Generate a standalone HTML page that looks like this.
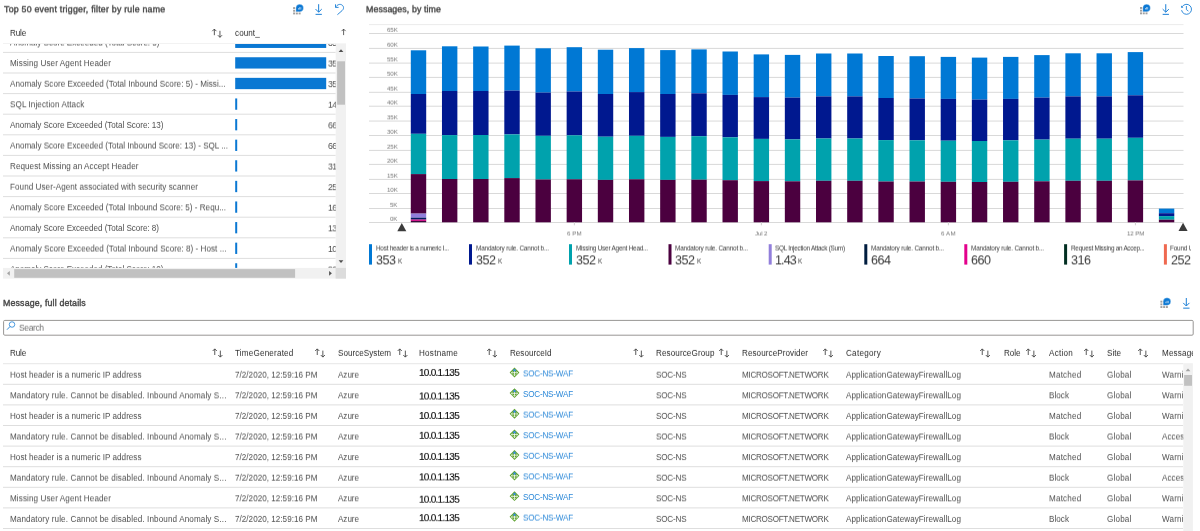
<!DOCTYPE html>
<html><head><meta charset="utf-8"><title>Workbook</title>
<style>
html,body{margin:0;padding:0;background:#fff;}
body{width:1200px;height:531px;position:relative;overflow:hidden;font-family:"Liberation Sans", sans-serif;}
.t{position:absolute;white-space:pre;transform-origin:0 50%;will-change:transform;}
.g{position:absolute;left:0;top:0;width:1200px;height:531px;}
svg{position:absolute;left:0;top:0;overflow:visible;}
</style></head><body>

<svg width="1200" height="531" viewBox="0 0 1200 531">
<rect x="369" y="24.1" width="814.5" height="1" fill="#ebebeb"/>
<rect x="369" y="33.00" width="814.5" height="1" fill="#d9d9d9"/>
<rect x="369" y="47.90" width="814.5" height="1" fill="#d9d9d9"/>
<rect x="369" y="62.60" width="814.5" height="1" fill="#d9d9d9"/>
<rect x="369" y="76.90" width="814.5" height="1" fill="#d9d9d9"/>
<rect x="369" y="91.80" width="814.5" height="1" fill="#d9d9d9"/>
<rect x="369" y="105.70" width="814.5" height="1" fill="#d9d9d9"/>
<rect x="369" y="120.55" width="814.5" height="1" fill="#d9d9d9"/>
<rect x="369" y="135.00" width="814.5" height="1" fill="#d9d9d9"/>
<rect x="369" y="149.90" width="814.5" height="1" fill="#d9d9d9"/>
<rect x="369" y="163.90" width="814.5" height="1" fill="#d9d9d9"/>
<rect x="369" y="178.90" width="814.5" height="1" fill="#d9d9d9"/>
<rect x="369" y="193.00" width="814.5" height="1" fill="#d9d9d9"/>
<rect x="369" y="208.00" width="814.5" height="1" fill="#d9d9d9"/>
<rect x="369" y="222.00" width="814.5" height="1" fill="#d9d9d9"/>
<rect x="410.80" y="50.30" width="15.4" height="43.70" fill="#0078d4"/>
<rect x="410.80" y="94.00" width="15.4" height="39.80" fill="#00188f"/>
<rect x="410.80" y="133.80" width="15.4" height="40.30" fill="#00a2ad"/>
<rect x="410.80" y="174.10" width="15.4" height="39.50" fill="#4b003f"/>
<rect x="410.80" y="213.60" width="15.4" height="4.10" fill="#917edb"/>
<rect x="410.80" y="217.70" width="15.4" height="1.90" fill="#001d5f"/>
<rect x="410.80" y="219.60" width="15.4" height="1.30" fill="#e3008c"/>
<rect x="410.80" y="220.90" width="15.4" height="1.40" fill="#3a0a3a"/>
<rect x="441.97" y="46.30" width="15.4" height="44.70" fill="#0078d4"/>
<rect x="441.97" y="91.00" width="15.4" height="44.10" fill="#00188f"/>
<rect x="441.97" y="135.10" width="15.4" height="43.90" fill="#00a2ad"/>
<rect x="441.97" y="179.00" width="15.4" height="43.30" fill="#4b003f"/>
<rect x="473.14" y="46.50" width="15.4" height="44.50" fill="#0078d4"/>
<rect x="473.14" y="91.00" width="15.4" height="44.00" fill="#00188f"/>
<rect x="473.14" y="135.00" width="15.4" height="44.00" fill="#00a2ad"/>
<rect x="473.14" y="179.00" width="15.4" height="43.30" fill="#4b003f"/>
<rect x="504.31" y="45.60" width="15.4" height="45.00" fill="#0078d4"/>
<rect x="504.31" y="90.60" width="15.4" height="43.80" fill="#00188f"/>
<rect x="504.31" y="134.40" width="15.4" height="43.70" fill="#00a2ad"/>
<rect x="504.31" y="178.10" width="15.4" height="44.20" fill="#4b003f"/>
<rect x="535.48" y="48.30" width="15.4" height="44.30" fill="#0078d4"/>
<rect x="535.48" y="92.60" width="15.4" height="43.20" fill="#00188f"/>
<rect x="535.48" y="135.80" width="15.4" height="43.70" fill="#00a2ad"/>
<rect x="535.48" y="179.50" width="15.4" height="42.80" fill="#4b003f"/>
<rect x="566.65" y="47.20" width="15.4" height="44.30" fill="#0078d4"/>
<rect x="566.65" y="91.50" width="15.4" height="43.80" fill="#00188f"/>
<rect x="566.65" y="135.30" width="15.4" height="44.00" fill="#00a2ad"/>
<rect x="566.65" y="179.30" width="15.4" height="43.00" fill="#4b003f"/>
<rect x="597.82" y="49.70" width="15.4" height="44.30" fill="#0078d4"/>
<rect x="597.82" y="94.00" width="15.4" height="42.70" fill="#00188f"/>
<rect x="597.82" y="136.70" width="15.4" height="43.20" fill="#00a2ad"/>
<rect x="597.82" y="179.90" width="15.4" height="42.40" fill="#4b003f"/>
<rect x="628.99" y="48.10" width="15.4" height="44.00" fill="#0078d4"/>
<rect x="628.99" y="92.10" width="15.4" height="43.70" fill="#00188f"/>
<rect x="628.99" y="135.80" width="15.4" height="43.50" fill="#00a2ad"/>
<rect x="628.99" y="179.30" width="15.4" height="43.00" fill="#4b003f"/>
<rect x="660.16" y="50.10" width="15.4" height="43.90" fill="#0078d4"/>
<rect x="660.16" y="94.00" width="15.4" height="42.90" fill="#00188f"/>
<rect x="660.16" y="136.90" width="15.4" height="43.00" fill="#00a2ad"/>
<rect x="660.16" y="179.90" width="15.4" height="42.40" fill="#4b003f"/>
<rect x="691.33" y="49.40" width="15.4" height="43.90" fill="#0078d4"/>
<rect x="691.33" y="93.30" width="15.4" height="42.90" fill="#00188f"/>
<rect x="691.33" y="136.20" width="15.4" height="43.50" fill="#00a2ad"/>
<rect x="691.33" y="179.70" width="15.4" height="42.60" fill="#4b003f"/>
<rect x="722.50" y="51.50" width="15.4" height="43.40" fill="#0078d4"/>
<rect x="722.50" y="94.90" width="15.4" height="42.40" fill="#00188f"/>
<rect x="722.50" y="137.30" width="15.4" height="42.90" fill="#00a2ad"/>
<rect x="722.50" y="180.20" width="15.4" height="42.10" fill="#4b003f"/>
<rect x="753.67" y="54.40" width="15.4" height="42.70" fill="#0078d4"/>
<rect x="753.67" y="97.10" width="15.4" height="41.80" fill="#00188f"/>
<rect x="753.67" y="138.90" width="15.4" height="42.20" fill="#00a2ad"/>
<rect x="753.67" y="181.10" width="15.4" height="41.20" fill="#4b003f"/>
<rect x="784.84" y="54.90" width="15.4" height="42.70" fill="#0078d4"/>
<rect x="784.84" y="97.60" width="15.4" height="41.80" fill="#00188f"/>
<rect x="784.84" y="139.40" width="15.4" height="41.90" fill="#00a2ad"/>
<rect x="784.84" y="181.30" width="15.4" height="41.00" fill="#4b003f"/>
<rect x="816.01" y="53.50" width="15.4" height="42.90" fill="#0078d4"/>
<rect x="816.01" y="96.40" width="15.4" height="42.10" fill="#00188f"/>
<rect x="816.01" y="138.50" width="15.4" height="42.30" fill="#00a2ad"/>
<rect x="816.01" y="180.80" width="15.4" height="41.50" fill="#4b003f"/>
<rect x="847.18" y="53.50" width="15.4" height="42.90" fill="#0078d4"/>
<rect x="847.18" y="96.40" width="15.4" height="42.10" fill="#00188f"/>
<rect x="847.18" y="138.50" width="15.4" height="42.30" fill="#00a2ad"/>
<rect x="847.18" y="180.80" width="15.4" height="41.50" fill="#4b003f"/>
<rect x="878.35" y="56.00" width="15.4" height="42.00" fill="#0078d4"/>
<rect x="878.35" y="98.00" width="15.4" height="42.10" fill="#00188f"/>
<rect x="878.35" y="140.10" width="15.4" height="41.40" fill="#00a2ad"/>
<rect x="878.35" y="181.50" width="15.4" height="40.80" fill="#4b003f"/>
<rect x="909.52" y="56.20" width="15.4" height="42.30" fill="#0078d4"/>
<rect x="909.52" y="98.50" width="15.4" height="41.80" fill="#00188f"/>
<rect x="909.52" y="140.30" width="15.4" height="41.20" fill="#00a2ad"/>
<rect x="909.52" y="181.50" width="15.4" height="40.80" fill="#4b003f"/>
<rect x="940.69" y="56.90" width="15.4" height="42.00" fill="#0078d4"/>
<rect x="940.69" y="98.90" width="15.4" height="41.80" fill="#00188f"/>
<rect x="940.69" y="140.70" width="15.4" height="41.10" fill="#00a2ad"/>
<rect x="940.69" y="181.80" width="15.4" height="40.50" fill="#4b003f"/>
<rect x="971.86" y="57.60" width="15.4" height="42.00" fill="#0078d4"/>
<rect x="971.86" y="99.60" width="15.4" height="41.40" fill="#00188f"/>
<rect x="971.86" y="141.00" width="15.4" height="41.00" fill="#00a2ad"/>
<rect x="971.86" y="182.00" width="15.4" height="40.30" fill="#4b003f"/>
<rect x="1003.03" y="56.90" width="15.4" height="42.00" fill="#0078d4"/>
<rect x="1003.03" y="98.90" width="15.4" height="41.40" fill="#00188f"/>
<rect x="1003.03" y="140.30" width="15.4" height="41.50" fill="#00a2ad"/>
<rect x="1003.03" y="181.80" width="15.4" height="40.50" fill="#4b003f"/>
<rect x="1034.20" y="55.10" width="15.4" height="42.50" fill="#0078d4"/>
<rect x="1034.20" y="97.60" width="15.4" height="42.00" fill="#00188f"/>
<rect x="1034.20" y="139.60" width="15.4" height="41.70" fill="#00a2ad"/>
<rect x="1034.20" y="181.30" width="15.4" height="41.00" fill="#4b003f"/>
<rect x="1065.37" y="53.30" width="15.4" height="43.10" fill="#0078d4"/>
<rect x="1065.37" y="96.40" width="15.4" height="42.30" fill="#00188f"/>
<rect x="1065.37" y="138.70" width="15.4" height="42.10" fill="#00a2ad"/>
<rect x="1065.37" y="180.80" width="15.4" height="41.50" fill="#4b003f"/>
<rect x="1096.54" y="53.30" width="15.4" height="43.10" fill="#0078d4"/>
<rect x="1096.54" y="96.40" width="15.4" height="42.30" fill="#00188f"/>
<rect x="1096.54" y="138.70" width="15.4" height="42.10" fill="#00a2ad"/>
<rect x="1096.54" y="180.80" width="15.4" height="41.50" fill="#4b003f"/>
<rect x="1127.71" y="52.10" width="15.4" height="43.20" fill="#0078d4"/>
<rect x="1127.71" y="95.30" width="15.4" height="42.50" fill="#00188f"/>
<rect x="1127.71" y="137.80" width="15.4" height="42.60" fill="#00a2ad"/>
<rect x="1127.71" y="180.40" width="15.4" height="41.90" fill="#4b003f"/>
<rect x="1158.88" y="208.6" width="15.4" height="4.60" fill="#0078d4"/>
<rect x="1158.88" y="213.2" width="15.4" height="2.90" fill="#00188f"/>
<rect x="1158.88" y="216.1" width="15.4" height="3.60" fill="#00a2ad"/>
<rect x="1158.88" y="219.7" width="15.4" height="2.60" fill="#4b003f"/>
<rect x="573.85" y="222.3" width="1" height="3" fill="#cfcfcf"/>
<rect x="760.87" y="222.3" width="1" height="3" fill="#cfcfcf"/>
<rect x="947.89" y="222.3" width="1" height="3" fill="#cfcfcf"/>
<rect x="1134.91" y="222.3" width="1" height="3" fill="#cfcfcf"/>
<polygon points="397.3,231.2 406.3,231.2 401.8,222.9" fill="#3b3b3b"/>
<polygon points="1178.5,231.0 1187.6,231.0 1183.05,222.7" fill="#3b3b3b"/>
</svg>
<div class="g" style="clip-path:inset(43.4px 864.3px 263.1px 0)">
<svg width="1200" height="531" viewBox="0 0 1200 531">
<rect x="3" y="51.9" width="333" height="1" fill="#dedede" />
<rect x="3" y="72.5" width="333" height="1" fill="#dedede" />
<rect x="3" y="93.1" width="333" height="1" fill="#dedede" />
<rect x="3" y="113.7" width="333" height="1" fill="#dedede" />
<rect x="3" y="134.3" width="333" height="1" fill="#dedede" />
<rect x="3" y="154.9" width="333" height="1" fill="#dedede" />
<rect x="3" y="175.5" width="333" height="1" fill="#dedede" />
<rect x="3" y="196.1" width="333" height="1" fill="#dedede" />
<rect x="3" y="216.7" width="333" height="1" fill="#dedede" />
<rect x="3" y="237.3" width="333" height="1" fill="#dedede" />
<rect x="3" y="257.9" width="333" height="1" fill="#dedede" />
<rect x="3" y="278.5" width="333" height="1" fill="#dedede" />
<rect x="235.2" y="36.65" width="91" height="11.3" fill="#0a78d3" />
<rect x="235.2" y="57.25" width="91" height="11.3" fill="#0a78d3" />
<rect x="235.2" y="77.85" width="91" height="11.3" fill="#0a78d3" />
<rect x="235.2" y="98.45" width="2" height="11.3" fill="#0a78d3" />
<rect x="235.2" y="119.05" width="2" height="11.3" fill="#0a78d3" />
<rect x="235.2" y="139.65" width="2" height="11.3" fill="#0a78d3" />
<rect x="235.2" y="160.25" width="2" height="11.3" fill="#0a78d3" />
<rect x="235.2" y="180.85" width="2" height="11.3" fill="#0a78d3" />
<rect x="235.2" y="201.45" width="2" height="11.3" fill="#0a78d3" />
<rect x="235.2" y="222.05" width="2" height="11.3" fill="#0a78d3" />
<rect x="235.2" y="242.65" width="2" height="11.3" fill="#0a78d3" />
<rect x="235.2" y="263.25" width="2" height="11.3" fill="#0a78d3" />
</svg>
<span class="t" style="left:9.90px;top:37px;font-size:8.1px;line-height:11px;height:11px;letter-spacing:-0.020px;color:#4e4e4e;transform:translateY(0.05px) rotate(0.02deg) scaleY(1.100);">Anomaly Score Exceeded (Total Score: 5)</span>
<span class="t" style="left:327.50px;top:37px;font-size:8.8px;line-height:12px;height:12px;letter-spacing:-0.596px;color:#4e4e4e;transform:translateY(-0.61px) rotate(0.02deg) scaleY(1.070);">353</span>
<span class="t" style="left:9.90px;top:58px;font-size:8.1px;line-height:11px;height:11px;letter-spacing:0.099px;color:#4e4e4e;transform:translateY(-0.35px) rotate(0.02deg) scaleY(1.100);">Missing User Agent Header</span>
<span class="t" style="left:327.50px;top:57px;font-size:8.8px;line-height:12px;height:12px;letter-spacing:-0.596px;color:#4e4e4e;transform:translateY(-0.01px) rotate(0.02deg) scaleY(1.070);">352</span>
<span class="t" style="left:9.90px;top:79px;font-size:8.1px;line-height:11px;height:11px;letter-spacing:0.025px;color:#4e4e4e;transform:translateY(-0.75px) rotate(0.02deg) scaleY(1.100);">Anomaly Score Exceeded (Total Inbound Score: 5) - Missi...</span>
<span class="t" style="left:327.50px;top:78px;font-size:8.8px;line-height:12px;height:12px;letter-spacing:-0.596px;color:#4e4e4e;transform:translateY(-0.41px) rotate(0.02deg) scaleY(1.070);">352</span>
<span class="t" style="left:9.90px;top:99px;font-size:8.1px;line-height:11px;height:11px;letter-spacing:0.095px;color:#4e4e4e;transform:translateY(-0.15px) rotate(0.02deg) scaleY(1.100);">SQL Injection Attack</span>
<span class="t" style="left:327.50px;top:98px;font-size:8.8px;line-height:12px;height:12px;letter-spacing:-0.596px;color:#4e4e4e;transform:translateY(0.19px) rotate(0.02deg) scaleY(1.070);">143</span>
<span class="t" style="left:9.90px;top:120px;font-size:8.1px;line-height:11px;height:11px;letter-spacing:-0.032px;color:#4e4e4e;transform:translateY(-0.55px) rotate(0.02deg) scaleY(1.100);">Anomaly Score Exceeded (Total Score: 13)</span>
<span class="t" style="left:327.50px;top:119px;font-size:8.8px;line-height:12px;height:12px;letter-spacing:-0.596px;color:#4e4e4e;transform:translateY(-0.21px) rotate(0.02deg) scaleY(1.070);">664</span>
<span class="t" style="left:9.90px;top:140px;font-size:8.1px;line-height:11px;height:11px;letter-spacing:-0.006px;color:#4e4e4e;transform:translateY(0.05px) rotate(0.02deg) scaleY(1.100);">Anomaly Score Exceeded (Total Inbound Score: 13) - SQL ...</span>
<span class="t" style="left:327.50px;top:140px;font-size:8.8px;line-height:12px;height:12px;letter-spacing:-0.596px;color:#4e4e4e;transform:translateY(-0.61px) rotate(0.02deg) scaleY(1.070);">660</span>
<span class="t" style="left:9.90px;top:161px;font-size:8.1px;line-height:11px;height:11px;letter-spacing:0.065px;color:#4e4e4e;transform:translateY(-0.35px) rotate(0.02deg) scaleY(1.100);">Request Missing an Accept Header</span>
<span class="t" style="left:327.50px;top:160px;font-size:8.8px;line-height:12px;height:12px;letter-spacing:-0.596px;color:#4e4e4e;transform:translateY(-0.01px) rotate(0.02deg) scaleY(1.070);">316</span>
<span class="t" style="left:9.90px;top:182px;font-size:8.1px;line-height:11px;height:11px;letter-spacing:0.063px;color:#4e4e4e;transform:translateY(-0.75px) rotate(0.02deg) scaleY(1.100);">Found User-Agent associated with security scanner</span>
<span class="t" style="left:327.50px;top:181px;font-size:8.8px;line-height:12px;height:12px;letter-spacing:-0.596px;color:#4e4e4e;transform:translateY(-0.41px) rotate(0.02deg) scaleY(1.070);">252</span>
<span class="t" style="left:9.90px;top:202px;font-size:8.1px;line-height:11px;height:11px;letter-spacing:0.016px;color:#4e4e4e;transform:translateY(-0.15px) rotate(0.02deg) scaleY(1.100);">Anomaly Score Exceeded (Total Inbound Score: 5) - Requ...</span>
<span class="t" style="left:327.50px;top:201px;font-size:8.8px;line-height:12px;height:12px;letter-spacing:-0.596px;color:#4e4e4e;transform:translateY(0.19px) rotate(0.02deg) scaleY(1.070);">163</span>
<span class="t" style="left:9.90px;top:223px;font-size:8.1px;line-height:11px;height:11px;letter-spacing:-0.032px;color:#4e4e4e;transform:translateY(-0.55px) rotate(0.02deg) scaleY(1.100);">Anomaly Score Exceeded (Total Score: 8)</span>
<span class="t" style="left:327.50px;top:222px;font-size:8.8px;line-height:12px;height:12px;letter-spacing:-0.596px;color:#4e4e4e;transform:translateY(-0.21px) rotate(0.02deg) scaleY(1.070);">131</span>
<span class="t" style="left:9.90px;top:243px;font-size:8.1px;line-height:11px;height:11px;letter-spacing:0.033px;color:#4e4e4e;transform:translateY(0.05px) rotate(0.02deg) scaleY(1.100);">Anomaly Score Exceeded (Total Inbound Score: 8) - Host ...</span>
<span class="t" style="left:327.50px;top:243px;font-size:8.8px;line-height:12px;height:12px;letter-spacing:-0.596px;color:#4e4e4e;transform:translateY(-0.61px) rotate(0.02deg) scaleY(1.070);">103</span>
<span class="t" style="left:9.90px;top:264px;font-size:8.1px;line-height:11px;height:11px;letter-spacing:-0.032px;color:#4e4e4e;transform:translateY(-0.35px) rotate(0.02deg) scaleY(1.100);">Anomaly Score Exceeded (Total Score: 10)</span>
<span class="t" style="left:327.50px;top:263px;font-size:8.8px;line-height:12px;height:12px;letter-spacing:-0.598px;color:#4e4e4e;transform:translateY(-0.01px) rotate(0.02deg) scaleY(1.070);">96</span>
</div>
<svg width="1200" height="531" viewBox="0 0 1200 531">
<rect x="3" y="43.0" width="333" height="1" fill="#f2f2f2" />
<rect x="335.7" y="43.4" width="10.3" height="225.2" fill="#f1f1f1" />
<rect x="337.1" y="61.3" width="7.9" height="43.4" fill="#c1c1c1" />
<rect x="3" y="267.9" width="343" height="10.7" fill="#f1f1f1" />
<rect x="14.2" y="269.1" width="280.9" height="8.7" fill="#c1c1c1" />
<rect x="335.6" y="267.9" width="10.4" height="10.7" fill="#dcdcdc" />
<polygon points="338.6,52.0 343.4,52.0 341,49.2" fill="#505050"/><polygon points="338.6,260.2 343.4,260.2 341,263.0" fill="#505050"/><polygon points="9.8,270.9 9.8,275.7 7.0,273.3" fill="#a3a3a3"/><polygon points="329.1,270.9 329.1,275.7 331.9,273.3" fill="#505050"/>
<rect x="3.6" y="320.4" width="1189.6" height="14.8" rx="1.2" fill="#fff" stroke="#989694" stroke-width="1"/>
<rect x="3" y="363.2" width="1180.3" height="1" fill="#e6e6e6" />
</svg>
<div class="g" style="clip-path:inset(0 7px 0 0)">
<span class="t" style="left:9.90px;top:348px;font-size:8.1px;line-height:11px;height:11px;letter-spacing:-0.114px;color:#2c2c2c;transform:translateY(-0.55px) rotate(0.02deg) scaleY(1.100);">Rule</span>
<span class="t" style="left:235.00px;top:348px;font-size:8.1px;line-height:11px;height:11px;letter-spacing:0.197px;color:#2c2c2c;transform:translateY(-0.55px) rotate(0.02deg) scaleY(1.100);">TimeGenerated</span>
<span class="t" style="left:338.00px;top:348px;font-size:8.1px;line-height:11px;height:11px;letter-spacing:0.030px;color:#2c2c2c;transform:translateY(-0.55px) rotate(0.02deg) scaleY(1.100);">SourceSystem</span>
<span class="t" style="left:419.00px;top:348px;font-size:8.1px;line-height:11px;height:11px;letter-spacing:0.264px;color:#2c2c2c;transform:translateY(-0.55px) rotate(0.02deg) scaleY(1.100);">Hostname</span>
<span class="t" style="left:509.50px;top:348px;font-size:8.1px;line-height:11px;height:11px;letter-spacing:0.011px;color:#2c2c2c;transform:translateY(-0.55px) rotate(0.02deg) scaleY(1.100);">ResourceId</span>
<span class="t" style="left:656.00px;top:348px;font-size:8.1px;line-height:11px;height:11px;letter-spacing:0.105px;color:#2c2c2c;transform:translateY(-0.55px) rotate(0.02deg) scaleY(1.100);">ResourceGroup</span>
<span class="t" style="left:742.00px;top:348px;font-size:8.1px;line-height:11px;height:11px;letter-spacing:0.076px;color:#2c2c2c;transform:translateY(-0.55px) rotate(0.02deg) scaleY(1.100);">ResourceProvider</span>
<span class="t" style="left:845.50px;top:348px;font-size:8.1px;line-height:11px;height:11px;letter-spacing:0.270px;color:#2c2c2c;transform:translateY(-0.55px) rotate(0.02deg) scaleY(1.100);">Category</span>
<span class="t" style="left:1003.50px;top:348px;font-size:8.1px;line-height:11px;height:11px;letter-spacing:-0.039px;color:#2c2c2c;transform:translateY(-0.55px) rotate(0.02deg) scaleY(1.100);">Role</span>
<span class="t" style="left:1048.50px;top:348px;font-size:8.1px;line-height:11px;height:11px;letter-spacing:0.250px;color:#2c2c2c;transform:translateY(-0.55px) rotate(0.02deg) scaleY(1.100);">Action</span>
<span class="t" style="left:1107.00px;top:348px;font-size:8.1px;line-height:11px;height:11px;letter-spacing:0.012px;color:#2c2c2c;transform:translateY(-0.55px) rotate(0.02deg) scaleY(1.100);">Site</span>
<span class="t" style="left:1161.60px;top:348px;font-size:8.1px;line-height:11px;height:11px;letter-spacing:0.165px;color:#2c2c2c;transform:translateY(-0.55px) rotate(0.02deg) scaleY(1.100);">Message</span>
</div>
<div class="g" style="clip-path:inset(364px 16.7px 0 0)">
<svg width="1200" height="531" viewBox="0 0 1200 531">
<rect x="3" y="383.8" width="1180.3" height="1" fill="#dedede" />
<rect x="3" y="404.4" width="1180.3" height="1" fill="#dedede" />
<rect x="3" y="425.0" width="1180.3" height="1" fill="#dedede" />
<rect x="3" y="445.6" width="1180.3" height="1" fill="#dedede" />
<rect x="3" y="466.2" width="1180.3" height="1" fill="#dedede" />
<rect x="3" y="486.8" width="1180.3" height="1" fill="#dedede" />
<rect x="3" y="507.4" width="1180.3" height="1" fill="#dedede" />
<rect x="3" y="528.0" width="1180.3" height="1" fill="#dedede" />
<path d="M514.5,367.6 L519.4,372.5 L514.5,377.4 L509.6,372.5 Z" fill="#5fa331"/><path d="M514.5,369.9 L514.5,375.6 M511.4,372.7 L517.6,372.7" stroke="#fff" stroke-width="0.8" fill="none" opacity="0.95"/><path d="M513.3,374.5 L514.5,375.8 L515.7,374.5 M512.5,371.5 L511.2,372.7 L512.5,373.9 M516.5,371.5 L517.8,372.7 L516.5,373.9" stroke="#fff" stroke-width="0.7" fill="none" opacity="0.9"/><circle cx="514.5" cy="370.3" r="1.25" fill="#3d8fe0"/><path d="M514.5,388.22 L519.4,393.12 L514.5,398.02 L509.6,393.12 Z" fill="#5fa331"/><path d="M514.5,390.52 L514.5,396.22 M511.4,393.32 L517.6,393.32" stroke="#fff" stroke-width="0.8" fill="none" opacity="0.95"/><path d="M513.3,395.12 L514.5,396.42 L515.7,395.12 M512.5,392.12 L511.2,393.32 L512.5,394.52 M516.5,392.12 L517.8,393.32 L516.5,394.52" stroke="#fff" stroke-width="0.7" fill="none" opacity="0.9"/><circle cx="514.5" cy="390.92" r="1.25" fill="#3d8fe0"/><path d="M514.5,408.84000000000003 L519.4,413.74 L514.5,418.64 L509.6,413.74 Z" fill="#5fa331"/><path d="M514.5,411.14 L514.5,416.84000000000003 M511.4,413.94 L517.6,413.94" stroke="#fff" stroke-width="0.8" fill="none" opacity="0.95"/><path d="M513.3,415.74 L514.5,417.04 L515.7,415.74 M512.5,412.74 L511.2,413.94 L512.5,415.14 M516.5,412.74 L517.8,413.94 L516.5,415.14" stroke="#fff" stroke-width="0.7" fill="none" opacity="0.9"/><circle cx="514.5" cy="411.54" r="1.25" fill="#3d8fe0"/><path d="M514.5,429.46000000000004 L519.4,434.36 L514.5,439.26 L509.6,434.36 Z" fill="#5fa331"/><path d="M514.5,431.76 L514.5,437.46000000000004 M511.4,434.56 L517.6,434.56" stroke="#fff" stroke-width="0.8" fill="none" opacity="0.95"/><path d="M513.3,436.36 L514.5,437.66 L515.7,436.36 M512.5,433.36 L511.2,434.56 L512.5,435.76 M516.5,433.36 L517.8,434.56 L516.5,435.76" stroke="#fff" stroke-width="0.7" fill="none" opacity="0.9"/><circle cx="514.5" cy="432.16" r="1.25" fill="#3d8fe0"/><path d="M514.5,450.08000000000004 L519.4,454.98 L514.5,459.88 L509.6,454.98 Z" fill="#5fa331"/><path d="M514.5,452.38 L514.5,458.08000000000004 M511.4,455.18 L517.6,455.18" stroke="#fff" stroke-width="0.8" fill="none" opacity="0.95"/><path d="M513.3,456.98 L514.5,458.28000000000003 L515.7,456.98 M512.5,453.98 L511.2,455.18 L512.5,456.38 M516.5,453.98 L517.8,455.18 L516.5,456.38" stroke="#fff" stroke-width="0.7" fill="none" opacity="0.9"/><circle cx="514.5" cy="452.78000000000003" r="1.25" fill="#3d8fe0"/><path d="M514.5,470.70000000000005 L519.4,475.6 L514.5,480.5 L509.6,475.6 Z" fill="#5fa331"/><path d="M514.5,473.0 L514.5,478.70000000000005 M511.4,475.8 L517.6,475.8" stroke="#fff" stroke-width="0.8" fill="none" opacity="0.95"/><path d="M513.3,477.6 L514.5,478.90000000000003 L515.7,477.6 M512.5,474.6 L511.2,475.8 L512.5,477.0 M516.5,474.6 L517.8,475.8 L516.5,477.0" stroke="#fff" stroke-width="0.7" fill="none" opacity="0.9"/><circle cx="514.5" cy="473.40000000000003" r="1.25" fill="#3d8fe0"/><path d="M514.5,491.32000000000005 L519.4,496.22 L514.5,501.12 L509.6,496.22 Z" fill="#5fa331"/><path d="M514.5,493.62 L514.5,499.32000000000005 M511.4,496.42 L517.6,496.42" stroke="#fff" stroke-width="0.8" fill="none" opacity="0.95"/><path d="M513.3,498.22 L514.5,499.52000000000004 L515.7,498.22 M512.5,495.22 L511.2,496.42 L512.5,497.62 M516.5,495.22 L517.8,496.42 L516.5,497.62" stroke="#fff" stroke-width="0.7" fill="none" opacity="0.9"/><circle cx="514.5" cy="494.02000000000004" r="1.25" fill="#3d8fe0"/><path d="M514.5,511.94000000000005 L519.4,516.84 L514.5,521.74 L509.6,516.84 Z" fill="#5fa331"/><path d="M514.5,514.24 L514.5,519.94 M511.4,517.0400000000001 L517.6,517.0400000000001" stroke="#fff" stroke-width="0.8" fill="none" opacity="0.95"/><path d="M513.3,518.84 L514.5,520.14 L515.7,518.84 M512.5,515.84 L511.2,517.0400000000001 L512.5,518.24 M516.5,515.84 L517.8,517.0400000000001 L516.5,518.24" stroke="#fff" stroke-width="0.7" fill="none" opacity="0.9"/><circle cx="514.5" cy="514.64" r="1.25" fill="#3d8fe0"/>
</svg>
<span class="t" style="left:9.90px;top:370px;font-size:8.1px;line-height:11px;height:11px;letter-spacing:0.021px;color:#4e4e4e;transform:translateY(-0.75px) rotate(0.02deg) scaleY(1.100);">Host header is a numeric IP address</span>
<span class="t" style="left:235.00px;top:370px;font-size:8.1px;line-height:11px;height:11px;letter-spacing:0.028px;color:#4e4e4e;transform:translateY(-0.75px) rotate(0.02deg) scaleY(1.100);">7/2/2020, 12:59:16 PM</span>
<span class="t" style="left:338.00px;top:370px;font-size:8.1px;line-height:11px;height:11px;letter-spacing:-0.031px;color:#4e4e4e;transform:translateY(-0.75px) rotate(0.02deg) scaleY(1.100);">Azure</span>
<span class="t" style="left:418.50px;top:366px;font-size:10.0px;line-height:13px;height:13px;letter-spacing:-0.727px;color:#0a0a0a;transform:translateY(0.34px) rotate(0.02deg) scaleY(0.875);-webkit-text-stroke:0.15px #0a0a0a;">10.0.1.135</span>
<span class="t" style="left:522.60px;top:368px;font-size:8.1px;line-height:11px;height:11px;letter-spacing:-0.196px;color:#2b88d8;transform:translateY(-0.05px) rotate(0.02deg) scaleY(1.100);">SOC-NS-WAF</span>
<span class="t" style="left:656.00px;top:370px;font-size:8.1px;line-height:11px;height:11px;letter-spacing:-0.164px;color:#4e4e4e;transform:translateY(-0.75px) rotate(0.02deg) scaleY(1.100);">SOC-NS</span>
<span class="t" style="left:742.00px;top:370px;font-size:8.1px;line-height:11px;height:11px;letter-spacing:-0.281px;color:#4e4e4e;transform:translateY(-0.75px) rotate(0.02deg) scaleY(1.100);">MICROSOFT.NETWORK</span>
<span class="t" style="left:845.50px;top:370px;font-size:8.1px;line-height:11px;height:11px;letter-spacing:0.072px;color:#4e4e4e;transform:translateY(-0.75px) rotate(0.02deg) scaleY(1.100);">ApplicationGatewayFirewallLog</span>
<span class="t" style="left:1048.50px;top:370px;font-size:8.1px;line-height:11px;height:11px;letter-spacing:0.208px;color:#4e4e4e;transform:translateY(-0.75px) rotate(0.02deg) scaleY(1.100);">Matched</span>
<span class="t" style="left:1107.00px;top:370px;font-size:8.1px;line-height:11px;height:11px;letter-spacing:0.182px;color:#4e4e4e;transform:translateY(-0.75px) rotate(0.02deg) scaleY(1.100);">Global</span>
<span class="t" style="left:1161.50px;top:370px;font-size:8.1px;line-height:11px;height:11px;letter-spacing:0.165px;color:#4e4e4e;transform:translateY(-0.75px) rotate(0.02deg) scaleY(1.100);">Warning</span>
<span class="t" style="left:9.90px;top:390px;font-size:8.1px;line-height:11px;height:11px;letter-spacing:0.122px;color:#4e4e4e;transform:translateY(-0.15px) rotate(0.02deg) scaleY(1.100);">Mandatory rule. Cannot be disabled. Inbound Anomaly S...</span>
<span class="t" style="left:235.00px;top:390px;font-size:8.1px;line-height:11px;height:11px;letter-spacing:0.028px;color:#4e4e4e;transform:translateY(-0.15px) rotate(0.02deg) scaleY(1.100);">7/2/2020, 12:59:16 PM</span>
<span class="t" style="left:338.00px;top:390px;font-size:8.1px;line-height:11px;height:11px;letter-spacing:-0.031px;color:#4e4e4e;transform:translateY(-0.15px) rotate(0.02deg) scaleY(1.100);">Azure</span>
<span class="t" style="left:418.50px;top:390px;font-size:10.0px;line-height:13px;height:13px;letter-spacing:-0.727px;color:#0a0a0a;transform:translateY(-0.06px) rotate(0.02deg) scaleY(0.875);-webkit-text-stroke:0.15px #0a0a0a;">10.0.1.135</span>
<span class="t" style="left:522.60px;top:389px;font-size:8.1px;line-height:11px;height:11px;letter-spacing:-0.196px;color:#2b88d8;transform:translateY(-0.45px) rotate(0.02deg) scaleY(1.100);">SOC-NS-WAF</span>
<span class="t" style="left:656.00px;top:390px;font-size:8.1px;line-height:11px;height:11px;letter-spacing:-0.164px;color:#4e4e4e;transform:translateY(-0.15px) rotate(0.02deg) scaleY(1.100);">SOC-NS</span>
<span class="t" style="left:742.00px;top:390px;font-size:8.1px;line-height:11px;height:11px;letter-spacing:-0.281px;color:#4e4e4e;transform:translateY(-0.15px) rotate(0.02deg) scaleY(1.100);">MICROSOFT.NETWORK</span>
<span class="t" style="left:845.50px;top:390px;font-size:8.1px;line-height:11px;height:11px;letter-spacing:0.072px;color:#4e4e4e;transform:translateY(-0.15px) rotate(0.02deg) scaleY(1.100);">ApplicationGatewayFirewallLog</span>
<span class="t" style="left:1048.50px;top:390px;font-size:8.1px;line-height:11px;height:11px;letter-spacing:0.041px;color:#4e4e4e;transform:translateY(-0.15px) rotate(0.02deg) scaleY(1.100);">Block</span>
<span class="t" style="left:1107.00px;top:390px;font-size:8.1px;line-height:11px;height:11px;letter-spacing:0.182px;color:#4e4e4e;transform:translateY(-0.15px) rotate(0.02deg) scaleY(1.100);">Global</span>
<span class="t" style="left:1161.50px;top:390px;font-size:8.1px;line-height:11px;height:11px;letter-spacing:0.165px;color:#4e4e4e;transform:translateY(-0.15px) rotate(0.02deg) scaleY(1.100);">Warning</span>
<span class="t" style="left:9.90px;top:411px;font-size:8.1px;line-height:11px;height:11px;letter-spacing:0.021px;color:#4e4e4e;transform:translateY(-0.55px) rotate(0.02deg) scaleY(1.100);">Host header is a numeric IP address</span>
<span class="t" style="left:235.00px;top:411px;font-size:8.1px;line-height:11px;height:11px;letter-spacing:0.028px;color:#4e4e4e;transform:translateY(-0.55px) rotate(0.02deg) scaleY(1.100);">7/2/2020, 12:59:16 PM</span>
<span class="t" style="left:338.00px;top:411px;font-size:8.1px;line-height:11px;height:11px;letter-spacing:-0.031px;color:#4e4e4e;transform:translateY(-0.55px) rotate(0.02deg) scaleY(1.100);">Azure</span>
<span class="t" style="left:418.50px;top:409px;font-size:10.0px;line-height:13px;height:13px;letter-spacing:-0.727px;color:#0a0a0a;transform:translateY(0.44px) rotate(0.02deg) scaleY(0.875);-webkit-text-stroke:0.15px #0a0a0a;">10.0.1.135</span>
<span class="t" style="left:522.60px;top:409px;font-size:8.1px;line-height:11px;height:11px;letter-spacing:-0.196px;color:#2b88d8;transform:translateY(0.15px) rotate(0.02deg) scaleY(1.100);">SOC-NS-WAF</span>
<span class="t" style="left:656.00px;top:411px;font-size:8.1px;line-height:11px;height:11px;letter-spacing:-0.164px;color:#4e4e4e;transform:translateY(-0.55px) rotate(0.02deg) scaleY(1.100);">SOC-NS</span>
<span class="t" style="left:742.00px;top:411px;font-size:8.1px;line-height:11px;height:11px;letter-spacing:-0.281px;color:#4e4e4e;transform:translateY(-0.55px) rotate(0.02deg) scaleY(1.100);">MICROSOFT.NETWORK</span>
<span class="t" style="left:845.50px;top:411px;font-size:8.1px;line-height:11px;height:11px;letter-spacing:0.072px;color:#4e4e4e;transform:translateY(-0.55px) rotate(0.02deg) scaleY(1.100);">ApplicationGatewayFirewallLog</span>
<span class="t" style="left:1048.50px;top:411px;font-size:8.1px;line-height:11px;height:11px;letter-spacing:0.208px;color:#4e4e4e;transform:translateY(-0.55px) rotate(0.02deg) scaleY(1.100);">Matched</span>
<span class="t" style="left:1107.00px;top:411px;font-size:8.1px;line-height:11px;height:11px;letter-spacing:0.182px;color:#4e4e4e;transform:translateY(-0.55px) rotate(0.02deg) scaleY(1.100);">Global</span>
<span class="t" style="left:1161.50px;top:411px;font-size:8.1px;line-height:11px;height:11px;letter-spacing:0.165px;color:#4e4e4e;transform:translateY(-0.55px) rotate(0.02deg) scaleY(1.100);">Warning</span>
<span class="t" style="left:9.90px;top:431px;font-size:8.1px;line-height:11px;height:11px;letter-spacing:0.122px;color:#4e4e4e;transform:translateY(0.05px) rotate(0.02deg) scaleY(1.100);">Mandatory rule. Cannot be disabled. Inbound Anomaly S...</span>
<span class="t" style="left:235.00px;top:431px;font-size:8.1px;line-height:11px;height:11px;letter-spacing:0.028px;color:#4e4e4e;transform:translateY(0.05px) rotate(0.02deg) scaleY(1.100);">7/2/2020, 12:59:16 PM</span>
<span class="t" style="left:338.00px;top:431px;font-size:8.1px;line-height:11px;height:11px;letter-spacing:-0.031px;color:#4e4e4e;transform:translateY(0.05px) rotate(0.02deg) scaleY(1.100);">Azure</span>
<span class="t" style="left:418.50px;top:429px;font-size:10.0px;line-height:13px;height:13px;letter-spacing:-0.727px;color:#0a0a0a;transform:translateY(0.24px) rotate(0.02deg) scaleY(0.875);-webkit-text-stroke:0.15px #0a0a0a;">10.0.1.135</span>
<span class="t" style="left:522.60px;top:430px;font-size:8.1px;line-height:11px;height:11px;letter-spacing:-0.196px;color:#2b88d8;transform:translateY(-0.25px) rotate(0.02deg) scaleY(1.100);">SOC-NS-WAF</span>
<span class="t" style="left:656.00px;top:431px;font-size:8.1px;line-height:11px;height:11px;letter-spacing:-0.164px;color:#4e4e4e;transform:translateY(0.05px) rotate(0.02deg) scaleY(1.100);">SOC-NS</span>
<span class="t" style="left:742.00px;top:431px;font-size:8.1px;line-height:11px;height:11px;letter-spacing:-0.281px;color:#4e4e4e;transform:translateY(0.05px) rotate(0.02deg) scaleY(1.100);">MICROSOFT.NETWORK</span>
<span class="t" style="left:845.50px;top:431px;font-size:8.1px;line-height:11px;height:11px;letter-spacing:0.072px;color:#4e4e4e;transform:translateY(0.05px) rotate(0.02deg) scaleY(1.100);">ApplicationGatewayFirewallLog</span>
<span class="t" style="left:1048.50px;top:431px;font-size:8.1px;line-height:11px;height:11px;letter-spacing:0.041px;color:#4e4e4e;transform:translateY(0.05px) rotate(0.02deg) scaleY(1.100);">Block</span>
<span class="t" style="left:1107.00px;top:431px;font-size:8.1px;line-height:11px;height:11px;letter-spacing:0.182px;color:#4e4e4e;transform:translateY(0.05px) rotate(0.02deg) scaleY(1.100);">Global</span>
<span class="t" style="left:1161.50px;top:431px;font-size:8.1px;line-height:11px;height:11px;letter-spacing:0.068px;color:#4e4e4e;transform:translateY(0.05px) rotate(0.02deg) scaleY(1.100);">Access</span>
<span class="t" style="left:9.90px;top:452px;font-size:8.1px;line-height:11px;height:11px;letter-spacing:0.021px;color:#4e4e4e;transform:translateY(-0.35px) rotate(0.02deg) scaleY(1.100);">Host header is a numeric IP address</span>
<span class="t" style="left:235.00px;top:452px;font-size:8.1px;line-height:11px;height:11px;letter-spacing:0.028px;color:#4e4e4e;transform:translateY(-0.35px) rotate(0.02deg) scaleY(1.100);">7/2/2020, 12:59:16 PM</span>
<span class="t" style="left:338.00px;top:452px;font-size:8.1px;line-height:11px;height:11px;letter-spacing:-0.031px;color:#4e4e4e;transform:translateY(-0.35px) rotate(0.02deg) scaleY(1.100);">Azure</span>
<span class="t" style="left:418.50px;top:450px;font-size:10.0px;line-height:13px;height:13px;letter-spacing:-0.727px;color:#0a0a0a;transform:translateY(0.34px) rotate(0.02deg) scaleY(0.875);-webkit-text-stroke:0.15px #0a0a0a;">10.0.1.135</span>
<span class="t" style="left:522.60px;top:451px;font-size:8.1px;line-height:11px;height:11px;letter-spacing:-0.196px;color:#2b88d8;transform:translateY(-0.65px) rotate(0.02deg) scaleY(1.100);">SOC-NS-WAF</span>
<span class="t" style="left:656.00px;top:452px;font-size:8.1px;line-height:11px;height:11px;letter-spacing:-0.164px;color:#4e4e4e;transform:translateY(-0.35px) rotate(0.02deg) scaleY(1.100);">SOC-NS</span>
<span class="t" style="left:742.00px;top:452px;font-size:8.1px;line-height:11px;height:11px;letter-spacing:-0.281px;color:#4e4e4e;transform:translateY(-0.35px) rotate(0.02deg) scaleY(1.100);">MICROSOFT.NETWORK</span>
<span class="t" style="left:845.50px;top:452px;font-size:8.1px;line-height:11px;height:11px;letter-spacing:0.072px;color:#4e4e4e;transform:translateY(-0.35px) rotate(0.02deg) scaleY(1.100);">ApplicationGatewayFirewallLog</span>
<span class="t" style="left:1048.50px;top:452px;font-size:8.1px;line-height:11px;height:11px;letter-spacing:0.208px;color:#4e4e4e;transform:translateY(-0.35px) rotate(0.02deg) scaleY(1.100);">Matched</span>
<span class="t" style="left:1107.00px;top:452px;font-size:8.1px;line-height:11px;height:11px;letter-spacing:0.182px;color:#4e4e4e;transform:translateY(-0.35px) rotate(0.02deg) scaleY(1.100);">Global</span>
<span class="t" style="left:1161.50px;top:452px;font-size:8.1px;line-height:11px;height:11px;letter-spacing:0.165px;color:#4e4e4e;transform:translateY(-0.35px) rotate(0.02deg) scaleY(1.100);">Warning</span>
<span class="t" style="left:9.90px;top:473px;font-size:8.1px;line-height:11px;height:11px;letter-spacing:0.122px;color:#4e4e4e;transform:translateY(-0.75px) rotate(0.02deg) scaleY(1.100);">Mandatory rule. Cannot be disabled. Inbound Anomaly S...</span>
<span class="t" style="left:235.00px;top:473px;font-size:8.1px;line-height:11px;height:11px;letter-spacing:0.028px;color:#4e4e4e;transform:translateY(-0.75px) rotate(0.02deg) scaleY(1.100);">7/2/2020, 12:59:16 PM</span>
<span class="t" style="left:338.00px;top:473px;font-size:8.1px;line-height:11px;height:11px;letter-spacing:-0.031px;color:#4e4e4e;transform:translateY(-0.75px) rotate(0.02deg) scaleY(1.100);">Azure</span>
<span class="t" style="left:418.50px;top:470px;font-size:10.0px;line-height:13px;height:13px;letter-spacing:-0.727px;color:#0a0a0a;transform:translateY(0.84px) rotate(0.02deg) scaleY(0.875);-webkit-text-stroke:0.15px #0a0a0a;">10.0.1.135</span>
<span class="t" style="left:522.60px;top:471px;font-size:8.1px;line-height:11px;height:11px;letter-spacing:-0.196px;color:#2b88d8;transform:translateY(-0.05px) rotate(0.02deg) scaleY(1.100);">SOC-NS-WAF</span>
<span class="t" style="left:656.00px;top:473px;font-size:8.1px;line-height:11px;height:11px;letter-spacing:-0.164px;color:#4e4e4e;transform:translateY(-0.75px) rotate(0.02deg) scaleY(1.100);">SOC-NS</span>
<span class="t" style="left:742.00px;top:473px;font-size:8.1px;line-height:11px;height:11px;letter-spacing:-0.281px;color:#4e4e4e;transform:translateY(-0.75px) rotate(0.02deg) scaleY(1.100);">MICROSOFT.NETWORK</span>
<span class="t" style="left:845.50px;top:473px;font-size:8.1px;line-height:11px;height:11px;letter-spacing:0.072px;color:#4e4e4e;transform:translateY(-0.75px) rotate(0.02deg) scaleY(1.100);">ApplicationGatewayFirewallLog</span>
<span class="t" style="left:1048.50px;top:473px;font-size:8.1px;line-height:11px;height:11px;letter-spacing:0.041px;color:#4e4e4e;transform:translateY(-0.75px) rotate(0.02deg) scaleY(1.100);">Block</span>
<span class="t" style="left:1107.00px;top:473px;font-size:8.1px;line-height:11px;height:11px;letter-spacing:0.182px;color:#4e4e4e;transform:translateY(-0.75px) rotate(0.02deg) scaleY(1.100);">Global</span>
<span class="t" style="left:1161.50px;top:473px;font-size:8.1px;line-height:11px;height:11px;letter-spacing:0.068px;color:#4e4e4e;transform:translateY(-0.75px) rotate(0.02deg) scaleY(1.100);">Access</span>
<span class="t" style="left:9.90px;top:493px;font-size:8.1px;line-height:11px;height:11px;letter-spacing:0.099px;color:#4e4e4e;transform:translateY(-0.15px) rotate(0.02deg) scaleY(1.100);">Missing User Agent Header</span>
<span class="t" style="left:235.00px;top:493px;font-size:8.1px;line-height:11px;height:11px;letter-spacing:0.028px;color:#4e4e4e;transform:translateY(-0.15px) rotate(0.02deg) scaleY(1.100);">7/2/2020, 12:59:16 PM</span>
<span class="t" style="left:338.00px;top:493px;font-size:8.1px;line-height:11px;height:11px;letter-spacing:-0.031px;color:#4e4e4e;transform:translateY(-0.15px) rotate(0.02deg) scaleY(1.100);">Azure</span>
<span class="t" style="left:418.50px;top:493px;font-size:10.0px;line-height:13px;height:13px;letter-spacing:-0.727px;color:#0a0a0a;transform:translateY(0.14px) rotate(0.02deg) scaleY(0.875);-webkit-text-stroke:0.15px #0a0a0a;">10.0.1.135</span>
<span class="t" style="left:522.60px;top:492px;font-size:8.1px;line-height:11px;height:11px;letter-spacing:-0.196px;color:#2b88d8;transform:translateY(-0.45px) rotate(0.02deg) scaleY(1.100);">SOC-NS-WAF</span>
<span class="t" style="left:656.00px;top:493px;font-size:8.1px;line-height:11px;height:11px;letter-spacing:-0.164px;color:#4e4e4e;transform:translateY(-0.15px) rotate(0.02deg) scaleY(1.100);">SOC-NS</span>
<span class="t" style="left:742.00px;top:493px;font-size:8.1px;line-height:11px;height:11px;letter-spacing:-0.281px;color:#4e4e4e;transform:translateY(-0.15px) rotate(0.02deg) scaleY(1.100);">MICROSOFT.NETWORK</span>
<span class="t" style="left:845.50px;top:493px;font-size:8.1px;line-height:11px;height:11px;letter-spacing:0.072px;color:#4e4e4e;transform:translateY(-0.15px) rotate(0.02deg) scaleY(1.100);">ApplicationGatewayFirewallLog</span>
<span class="t" style="left:1048.50px;top:493px;font-size:8.1px;line-height:11px;height:11px;letter-spacing:0.208px;color:#4e4e4e;transform:translateY(-0.15px) rotate(0.02deg) scaleY(1.100);">Matched</span>
<span class="t" style="left:1107.00px;top:493px;font-size:8.1px;line-height:11px;height:11px;letter-spacing:0.182px;color:#4e4e4e;transform:translateY(-0.15px) rotate(0.02deg) scaleY(1.100);">Global</span>
<span class="t" style="left:1161.50px;top:493px;font-size:8.1px;line-height:11px;height:11px;letter-spacing:0.165px;color:#4e4e4e;transform:translateY(-0.15px) rotate(0.02deg) scaleY(1.100);">Warning</span>
<span class="t" style="left:9.90px;top:514px;font-size:8.1px;line-height:11px;height:11px;letter-spacing:0.122px;color:#4e4e4e;transform:translateY(-0.55px) rotate(0.02deg) scaleY(1.100);">Mandatory rule. Cannot be disabled. Inbound Anomaly S...</span>
<span class="t" style="left:235.00px;top:514px;font-size:8.1px;line-height:11px;height:11px;letter-spacing:0.028px;color:#4e4e4e;transform:translateY(-0.55px) rotate(0.02deg) scaleY(1.100);">7/2/2020, 12:59:16 PM</span>
<span class="t" style="left:338.00px;top:514px;font-size:8.1px;line-height:11px;height:11px;letter-spacing:-0.031px;color:#4e4e4e;transform:translateY(-0.55px) rotate(0.02deg) scaleY(1.100);">Azure</span>
<span class="t" style="left:418.50px;top:511px;font-size:10.0px;line-height:13px;height:13px;letter-spacing:-0.727px;color:#0a0a0a;transform:translateY(0.64px) rotate(0.02deg) scaleY(0.875);-webkit-text-stroke:0.15px #0a0a0a;">10.0.1.135</span>
<span class="t" style="left:522.60px;top:512px;font-size:8.1px;line-height:11px;height:11px;letter-spacing:-0.196px;color:#2b88d8;transform:translateY(0.15px) rotate(0.02deg) scaleY(1.100);">SOC-NS-WAF</span>
<span class="t" style="left:656.00px;top:514px;font-size:8.1px;line-height:11px;height:11px;letter-spacing:-0.164px;color:#4e4e4e;transform:translateY(-0.55px) rotate(0.02deg) scaleY(1.100);">SOC-NS</span>
<span class="t" style="left:742.00px;top:514px;font-size:8.1px;line-height:11px;height:11px;letter-spacing:-0.281px;color:#4e4e4e;transform:translateY(-0.55px) rotate(0.02deg) scaleY(1.100);">MICROSOFT.NETWORK</span>
<span class="t" style="left:845.50px;top:514px;font-size:8.1px;line-height:11px;height:11px;letter-spacing:0.072px;color:#4e4e4e;transform:translateY(-0.55px) rotate(0.02deg) scaleY(1.100);">ApplicationGatewayFirewallLog</span>
<span class="t" style="left:1048.50px;top:514px;font-size:8.1px;line-height:11px;height:11px;letter-spacing:0.041px;color:#4e4e4e;transform:translateY(-0.55px) rotate(0.02deg) scaleY(1.100);">Block</span>
<span class="t" style="left:1107.00px;top:514px;font-size:8.1px;line-height:11px;height:11px;letter-spacing:0.182px;color:#4e4e4e;transform:translateY(-0.55px) rotate(0.02deg) scaleY(1.100);">Global</span>
<span class="t" style="left:1161.50px;top:514px;font-size:8.1px;line-height:11px;height:11px;letter-spacing:0.165px;color:#4e4e4e;transform:translateY(-0.55px) rotate(0.02deg) scaleY(1.100);">Warning</span>
</div>
<svg width="1200" height="531" viewBox="0 0 1200 531">
<rect x="1183.3" y="363.2" width="9.6" height="168" fill="#f1f1f1" />
<rect x="1184.1" y="375" width="7.9" height="10.8" fill="#c1c1c1" />
<polygon points="1185.6,371.2 1190.4,371.2 1188,368.6" fill="#a3a3a3"/></svg>
<div class="g" style="clip-path:inset(0 9px 0 0)">
<svg width="1200" height="531" viewBox="0 0 1200 531">
<rect x="369" y="244.2" width="3" height="20.4" fill="#0078d4" />
<rect x="469" y="244.2" width="3" height="20.4" fill="#00188f" />
<rect x="569" y="244.2" width="3" height="20.4" fill="#00a2ad" />
<rect x="668.5" y="244.2" width="3" height="20.4" fill="#4b003f" />
<rect x="768.7" y="244.2" width="3" height="20.4" fill="#917edb" />
<rect x="864.3" y="244.2" width="3" height="20.4" fill="#001d3f" />
<rect x="964.3" y="244.2" width="3" height="20.4" fill="#e3008c" />
<rect x="1064.1" y="244.2" width="3" height="20.4" fill="#022f22" />
<rect x="1163.9" y="244.2" width="3" height="20.4" fill="#ef6950" />
</svg>
<span class="t" style="left:375.50px;top:244px;font-size:6.4px;line-height:9px;height:9px;letter-spacing:-0.246px;color:#3a3a3a;transform:translateY(-0.50px) rotate(0.02deg);">Host header is a numeric I...</span>
<span class="t" style="left:375.90px;top:252px;font-size:12.6px;line-height:16px;height:16px;letter-spacing:-0.539px;color:#3a3a3a;transform:translateY(0.40px) rotate(0.02deg);">353</span>
<span class="t" style="left:397.70px;top:257px;font-size:6.4px;line-height:9px;height:9px;letter-spacing:0.034px;color:#3a3a3a;transform:translateY(-0.50px) rotate(0.02deg);">K</span>
<span class="t" style="left:475.50px;top:244px;font-size:6.4px;line-height:9px;height:9px;letter-spacing:-0.172px;color:#3a3a3a;transform:translateY(-0.50px) rotate(0.02deg);">Mandatory rule. Cannot b...</span>
<span class="t" style="left:475.90px;top:252px;font-size:12.6px;line-height:16px;height:16px;letter-spacing:-0.539px;color:#3a3a3a;transform:translateY(0.40px) rotate(0.02deg);">352</span>
<span class="t" style="left:497.70px;top:257px;font-size:6.4px;line-height:9px;height:9px;letter-spacing:0.034px;color:#3a3a3a;transform:translateY(-0.50px) rotate(0.02deg);">K</span>
<span class="t" style="left:575.50px;top:244px;font-size:6.4px;line-height:9px;height:9px;letter-spacing:-0.217px;color:#3a3a3a;transform:translateY(-0.50px) rotate(0.02deg);">Missing User Agent Head...</span>
<span class="t" style="left:575.90px;top:252px;font-size:12.6px;line-height:16px;height:16px;letter-spacing:-0.539px;color:#3a3a3a;transform:translateY(0.40px) rotate(0.02deg);">352</span>
<span class="t" style="left:597.70px;top:257px;font-size:6.4px;line-height:9px;height:9px;letter-spacing:0.034px;color:#3a3a3a;transform:translateY(-0.50px) rotate(0.02deg);">K</span>
<span class="t" style="left:675.00px;top:244px;font-size:6.4px;line-height:9px;height:9px;letter-spacing:-0.172px;color:#3a3a3a;transform:translateY(-0.50px) rotate(0.02deg);">Mandatory rule. Cannot b...</span>
<span class="t" style="left:675.40px;top:252px;font-size:12.6px;line-height:16px;height:16px;letter-spacing:-0.539px;color:#3a3a3a;transform:translateY(0.40px) rotate(0.02deg);">352</span>
<span class="t" style="left:697.20px;top:257px;font-size:6.4px;line-height:9px;height:9px;letter-spacing:0.034px;color:#3a3a3a;transform:translateY(-0.50px) rotate(0.02deg);">K</span>
<span class="t" style="left:775.20px;top:244px;font-size:6.4px;line-height:9px;height:9px;letter-spacing:-0.257px;color:#3a3a3a;transform:translateY(-0.50px) rotate(0.02deg);">SQL Injection Attack (Sum)</span>
<span class="t" style="left:774.60px;top:252px;font-size:12.6px;line-height:16px;height:16px;letter-spacing:-0.929px;color:#3a3a3a;transform:translateY(0.40px) rotate(0.02deg);">1.43</span>
<span class="t" style="left:797.80px;top:257px;font-size:6.4px;line-height:9px;height:9px;letter-spacing:0.034px;color:#3a3a3a;transform:translateY(-0.50px) rotate(0.02deg);">K</span>
<span class="t" style="left:870.80px;top:244px;font-size:6.4px;line-height:9px;height:9px;letter-spacing:-0.172px;color:#3a3a3a;transform:translateY(-0.50px) rotate(0.02deg);">Mandatory rule. Cannot b...</span>
<span class="t" style="left:871.20px;top:252px;font-size:12.6px;line-height:16px;height:16px;letter-spacing:-0.539px;color:#3a3a3a;transform:translateY(0.40px) rotate(0.02deg);">664</span>
<span class="t" style="left:970.80px;top:244px;font-size:6.4px;line-height:9px;height:9px;letter-spacing:-0.172px;color:#3a3a3a;transform:translateY(-0.50px) rotate(0.02deg);">Mandatory rule. Cannot b...</span>
<span class="t" style="left:971.20px;top:252px;font-size:12.6px;line-height:16px;height:16px;letter-spacing:-0.539px;color:#3a3a3a;transform:translateY(0.40px) rotate(0.02deg);">660</span>
<span class="t" style="left:1070.60px;top:244px;font-size:6.4px;line-height:9px;height:9px;letter-spacing:-0.272px;color:#3a3a3a;transform:translateY(-0.50px) rotate(0.02deg);">Request Missing an Accep...</span>
<span class="t" style="left:1071.00px;top:252px;font-size:12.6px;line-height:16px;height:16px;letter-spacing:-0.539px;color:#3a3a3a;transform:translateY(0.40px) rotate(0.02deg);">316</span>
<span class="t" style="left:1170.40px;top:244px;font-size:6.4px;line-height:9px;height:9px;letter-spacing:-0.178px;color:#3a3a3a;transform:translateY(-0.50px) rotate(0.02deg);">Found User-Agent associ...</span>
<span class="t" style="left:1170.80px;top:252px;font-size:12.6px;line-height:16px;height:16px;letter-spacing:-0.539px;color:#3a3a3a;transform:translateY(0.40px) rotate(0.02deg);">252</span>
</div>
<span class="t" style="left:3.80px;top:3px;font-size:8.8px;line-height:12px;height:12px;letter-spacing:0.227px;color:#464646;transform:translateY(0.30px) rotate(0.02deg);-webkit-text-stroke:0.38px #464646;">Top 50 event trigger, filter by rule name</span>
<span class="t" style="left:366.30px;top:3px;font-size:8.8px;line-height:12px;height:12px;letter-spacing:0.092px;color:#464646;transform:translateY(0.30px) rotate(0.02deg);-webkit-text-stroke:0.38px #464646;">Messages, by time</span>
<span class="t" style="left:3.40px;top:297px;font-size:8.8px;line-height:12px;height:12px;letter-spacing:0.152px;color:#464646;transform:translateY(0.00px) rotate(0.02deg);-webkit-text-stroke:0.38px #464646;">Message, full details</span>
<span class="t" style="left:9.90px;top:28px;font-size:8.1px;line-height:11px;height:11px;letter-spacing:-0.114px;color:#2c2c2c;transform:translateY(-0.55px) rotate(0.02deg) scaleY(1.100);">Rule</span>
<span class="t" style="left:235.20px;top:28px;font-size:8.1px;line-height:11px;height:11px;letter-spacing:0.081px;color:#2c2c2c;transform:translateY(-0.55px) rotate(0.02deg) scaleY(1.100);">count_</span>
<span class="t" style="left:18.80px;top:322px;font-size:8.6px;line-height:12px;height:12px;letter-spacing:-0.439px;color:#707070;transform:translateY(-0.30px) rotate(0.02deg);">Search</span>
<span class="t" style="left:386.80px;top:25px;font-size:6.2px;line-height:9px;height:9px;letter-spacing:-0.072px;color:#777;transform:translateY(-0.20px) rotate(0.02deg);">65K</span>
<span class="t" style="left:386.80px;top:40px;font-size:6.2px;line-height:9px;height:9px;letter-spacing:-0.072px;color:#777;transform:translateY(-0.30px) rotate(0.02deg);">60K</span>
<span class="t" style="left:386.80px;top:54px;font-size:6.2px;line-height:9px;height:9px;letter-spacing:-0.072px;color:#777;transform:translateY(0.40px) rotate(0.02deg);">55K</span>
<span class="t" style="left:386.80px;top:69px;font-size:6.2px;line-height:9px;height:9px;letter-spacing:-0.072px;color:#777;transform:translateY(-0.30px) rotate(0.02deg);">50K</span>
<span class="t" style="left:386.80px;top:84px;font-size:6.2px;line-height:9px;height:9px;letter-spacing:-0.072px;color:#777;transform:translateY(-0.40px) rotate(0.02deg);">45K</span>
<span class="t" style="left:386.80px;top:98px;font-size:6.2px;line-height:9px;height:9px;letter-spacing:-0.072px;color:#777;transform:translateY(-0.50px) rotate(0.02deg);">40K</span>
<span class="t" style="left:386.80px;top:112px;font-size:6.2px;line-height:9px;height:9px;letter-spacing:-0.072px;color:#777;transform:translateY(0.35px) rotate(0.02deg);">35K</span>
<span class="t" style="left:386.80px;top:127px;font-size:6.2px;line-height:9px;height:9px;letter-spacing:-0.072px;color:#777;transform:translateY(-0.20px) rotate(0.02deg);">30K</span>
<span class="t" style="left:386.80px;top:142px;font-size:6.2px;line-height:9px;height:9px;letter-spacing:-0.072px;color:#777;transform:translateY(-0.30px) rotate(0.02deg);">25K</span>
<span class="t" style="left:386.80px;top:156px;font-size:6.2px;line-height:9px;height:9px;letter-spacing:-0.072px;color:#777;transform:translateY(-0.30px) rotate(0.02deg);">20K</span>
<span class="t" style="left:386.80px;top:171px;font-size:6.2px;line-height:9px;height:9px;letter-spacing:-0.072px;color:#777;transform:translateY(-0.30px) rotate(0.02deg);">15K</span>
<span class="t" style="left:386.80px;top:185px;font-size:6.2px;line-height:9px;height:9px;letter-spacing:-0.072px;color:#777;transform:translateY(-0.20px) rotate(0.02deg);">10K</span>
<span class="t" style="left:390.20px;top:200px;font-size:6.2px;line-height:9px;height:9px;letter-spacing:-0.089px;color:#777;transform:translateY(-0.20px) rotate(0.02deg);">5K</span>
<span class="t" style="left:390.20px;top:214px;font-size:6.2px;line-height:9px;height:9px;letter-spacing:-0.089px;color:#777;transform:translateY(-0.20px) rotate(0.02deg);">0K</span>
<span class="t" style="left:566.80px;top:229px;font-size:6.2px;line-height:9px;height:9px;letter-spacing:0.062px;color:#777;transform:translateY(-0.50px) rotate(0.02deg);">6 PM</span>
<span class="t" style="left:755.20px;top:229px;font-size:6.2px;line-height:9px;height:9px;letter-spacing:-0.136px;color:#777;transform:translateY(-0.50px) rotate(0.02deg);">Jul 2</span>
<span class="t" style="left:940.90px;top:229px;font-size:6.2px;line-height:9px;height:9px;letter-spacing:0.148px;color:#777;transform:translateY(-0.50px) rotate(0.02deg);">6 AM</span>
<span class="t" style="left:1126.60px;top:229px;font-size:6.2px;line-height:9px;height:9px;letter-spacing:-0.098px;color:#777;transform:translateY(-0.50px) rotate(0.02deg);">12 PM</span>
<svg width="1200" height="531" viewBox="0 0 1200 531"><rect x="293.10" y="7.10" width="2.0" height="1.9" fill="#a0a0a0"/><rect x="295.85" y="7.10" width="2.0" height="1.9" fill="#a0a0a0"/><rect x="298.60" y="7.10" width="2.0" height="1.9" fill="#a0a0a0"/><rect x="293.10" y="9.80" width="2.0" height="1.9" fill="#a0a0a0"/><rect x="295.85" y="9.80" width="2.0" height="1.9" fill="#a0a0a0"/><rect x="298.60" y="9.80" width="2.0" height="1.9" fill="#a0a0a0"/><rect x="293.10" y="12.50" width="2.0" height="1.9" fill="#a0a0a0"/><rect x="295.85" y="12.50" width="2.0" height="1.9" fill="#a0a0a0"/><rect x="298.60" y="12.50" width="2.0" height="1.9" fill="#a0a0a0"/><path d="M295.95,8.00 A3.75,3.75 0 1 1 299.70,11.75 L295.95,11.75 Z" fill="#0b78d4" stroke="#fff" stroke-width="0.3"/><rect x="298.25" y="8.10" width="0.65" height="1.5" fill="#fff" opacity="0.85"/><rect x="299.40" y="7.20" width="0.65" height="2.4" fill="#fff" opacity="0.85"/><rect x="300.55" y="7.20" width="0.65" height="2.4" fill="#fff" opacity="0.85"/><path d="M318.65,4.2 L318.65,12.100000000000001 M315.54999999999995,9.100000000000001 L318.65,12.2 L321.75,9.100000000000001 M315.54999999999995,14.350000000000001 L321.84999999999997,14.350000000000001" fill="none" stroke="#1b7fd6" stroke-width="1.0"/><path d="M335.50,4.30 L335.50,7.40 L338.60,7.40 M335.60,7.30 C337.00,4.50 340.40,3.50 342.40,5.30 C344.30,7.10 343.60,9.30 342.00,10.70 L337.40,14.70" fill="none" stroke="#1b7fd6" stroke-width="0.92"/><rect x="1140.00" y="7.00" width="2.0" height="1.9" fill="#a0a0a0"/><rect x="1142.75" y="7.00" width="2.0" height="1.9" fill="#a0a0a0"/><rect x="1145.50" y="7.00" width="2.0" height="1.9" fill="#a0a0a0"/><rect x="1140.00" y="9.70" width="2.0" height="1.9" fill="#a0a0a0"/><rect x="1142.75" y="9.70" width="2.0" height="1.9" fill="#a0a0a0"/><rect x="1145.50" y="9.70" width="2.0" height="1.9" fill="#a0a0a0"/><rect x="1140.00" y="12.40" width="2.0" height="1.9" fill="#a0a0a0"/><rect x="1142.75" y="12.40" width="2.0" height="1.9" fill="#a0a0a0"/><rect x="1145.50" y="12.40" width="2.0" height="1.9" fill="#a0a0a0"/><path d="M1142.85,7.90 A3.75,3.75 0 1 1 1146.60,11.65 L1142.85,11.65 Z" fill="#0b78d4" stroke="#fff" stroke-width="0.3"/><rect x="1145.15" y="8.00" width="0.65" height="1.5" fill="#fff" opacity="0.85"/><rect x="1146.30" y="7.10" width="0.65" height="2.4" fill="#fff" opacity="0.85"/><rect x="1147.45" y="7.10" width="0.65" height="2.4" fill="#fff" opacity="0.85"/><path d="M1165.75,4.2 L1165.75,12.100000000000001 M1162.65,9.100000000000001 L1165.75,12.2 L1168.85,9.100000000000001 M1162.65,14.350000000000001 L1168.95,14.350000000000001" fill="none" stroke="#1b7fd6" stroke-width="1.0"/><path d="M1182.17,6.80 A5.0,5.0 0 1 1 1181.58,10.17" fill="none" stroke="#1b7fd6" stroke-width="0.9"/><path d="M1181.10,5.40 L1181.10,7.70 L1183.40,7.70 Z" fill="#1b7fd6"/><path d="M1186.40,6.00 L1186.40,9.60 L1188.40,11.10" fill="none" stroke="#1b7fd6" stroke-width="0.85"/><rect x="1160.40" y="300.70" width="2.0" height="1.9" fill="#a0a0a0"/><rect x="1163.15" y="300.70" width="2.0" height="1.9" fill="#a0a0a0"/><rect x="1165.90" y="300.70" width="2.0" height="1.9" fill="#a0a0a0"/><rect x="1160.40" y="303.40" width="2.0" height="1.9" fill="#a0a0a0"/><rect x="1163.15" y="303.40" width="2.0" height="1.9" fill="#a0a0a0"/><rect x="1165.90" y="303.40" width="2.0" height="1.9" fill="#a0a0a0"/><rect x="1160.40" y="306.10" width="2.0" height="1.9" fill="#a0a0a0"/><rect x="1163.15" y="306.10" width="2.0" height="1.9" fill="#a0a0a0"/><rect x="1165.90" y="306.10" width="2.0" height="1.9" fill="#a0a0a0"/><path d="M1163.25,301.60 A3.75,3.75 0 1 1 1167.00,305.35 L1163.25,305.35 Z" fill="#0b78d4" stroke="#fff" stroke-width="0.3"/><rect x="1165.55" y="301.70" width="0.65" height="1.5" fill="#fff" opacity="0.85"/><rect x="1166.70" y="300.80" width="0.65" height="2.4" fill="#fff" opacity="0.85"/><rect x="1167.85" y="300.80" width="0.65" height="2.4" fill="#fff" opacity="0.85"/><path d="M1186.3,298.0 L1186.3,305.9 M1183.2,302.9 L1186.3,306.0 L1189.3999999999999,302.9 M1183.2,308.15 L1189.5,308.15" fill="none" stroke="#1b7fd6" stroke-width="1.0"/><path d="M214.35,35.20 L214.35,29.10 M212.25,31.20 L214.35,29.10 L216.45,31.20 M219.95,30.80 L219.95,37.30 M217.85,35.20 L219.95,37.30 L222.05,35.20" fill="none" stroke="#3c3c3c" stroke-width="0.85"/><path d="M343.60,35.10 L343.60,29.10 M341.60,31.10 L343.60,29.10 L345.60,31.10" fill="none" stroke="#3c3c3c" stroke-width="0.8"/><path d="M214.75,355.00 L214.75,348.90 M212.65,351.00 L214.75,348.90 L216.85,351.00 M220.35,350.60 L220.35,357.10 M218.25,355.00 L220.35,357.10 L222.45,355.00" fill="none" stroke="#3c3c3c" stroke-width="0.85"/><path d="M317.25,355.00 L317.25,348.90 M315.15,351.00 L317.25,348.90 L319.35,351.00 M322.85,350.60 L322.85,357.10 M320.75,355.00 L322.85,357.10 L324.95,355.00" fill="none" stroke="#3c3c3c" stroke-width="0.85"/><path d="M399.75,355.00 L399.75,348.90 M397.65,351.00 L399.75,348.90 L401.85,351.00 M405.35,350.60 L405.35,357.10 M403.25,355.00 L405.35,357.10 L407.45,355.00" fill="none" stroke="#3c3c3c" stroke-width="0.85"/><path d="M489.25,355.00 L489.25,348.90 M487.15,351.00 L489.25,348.90 L491.35,351.00 M494.85,350.60 L494.85,357.10 M492.75,355.00 L494.85,357.10 L496.95,355.00" fill="none" stroke="#3c3c3c" stroke-width="0.85"/><path d="M635.75,355.00 L635.75,348.90 M633.65,351.00 L635.75,348.90 L637.85,351.00 M641.35,350.60 L641.35,357.10 M639.25,355.00 L641.35,357.10 L643.45,355.00" fill="none" stroke="#3c3c3c" stroke-width="0.85"/><path d="M721.25,355.00 L721.25,348.90 M719.15,351.00 L721.25,348.90 L723.35,351.00 M726.85,350.60 L726.85,357.10 M724.75,355.00 L726.85,357.10 L728.95,355.00" fill="none" stroke="#3c3c3c" stroke-width="0.85"/><path d="M825.25,355.00 L825.25,348.90 M823.15,351.00 L825.25,348.90 L827.35,351.00 M830.85,350.60 L830.85,357.10 M828.75,355.00 L830.85,357.10 L832.95,355.00" fill="none" stroke="#3c3c3c" stroke-width="0.85"/><path d="M982.25,355.00 L982.25,348.90 M980.15,351.00 L982.25,348.90 L984.35,351.00 M987.85,350.60 L987.85,357.10 M985.75,355.00 L987.85,357.10 L989.95,355.00" fill="none" stroke="#3c3c3c" stroke-width="0.85"/><path d="M1028.25,355.00 L1028.25,348.90 M1026.15,351.00 L1028.25,348.90 L1030.35,351.00 M1033.85,350.60 L1033.85,357.10 M1031.75,355.00 L1033.85,357.10 L1035.95,355.00" fill="none" stroke="#3c3c3c" stroke-width="0.85"/><path d="M1086.25,355.00 L1086.25,348.90 M1084.15,351.00 L1086.25,348.90 L1088.35,351.00 M1091.85,350.60 L1091.85,357.10 M1089.75,355.00 L1091.85,357.10 L1093.95,355.00" fill="none" stroke="#3c3c3c" stroke-width="0.85"/><path d="M1140.25,355.00 L1140.25,348.90 M1138.15,351.00 L1140.25,348.90 L1142.35,351.00 M1145.85,350.60 L1145.85,357.10 M1143.75,355.00 L1145.85,357.10 L1147.95,355.00" fill="none" stroke="#3c3c3c" stroke-width="0.85"/><circle cx="12.0" cy="324.5" r="2.75" fill="none" stroke="#1b7fd6" stroke-width="0.8"/><path d="M10.05,326.45 L7.00,329.70" stroke="#1b7fd6" stroke-width="0.9" fill="none"/></svg>
</body></html>
